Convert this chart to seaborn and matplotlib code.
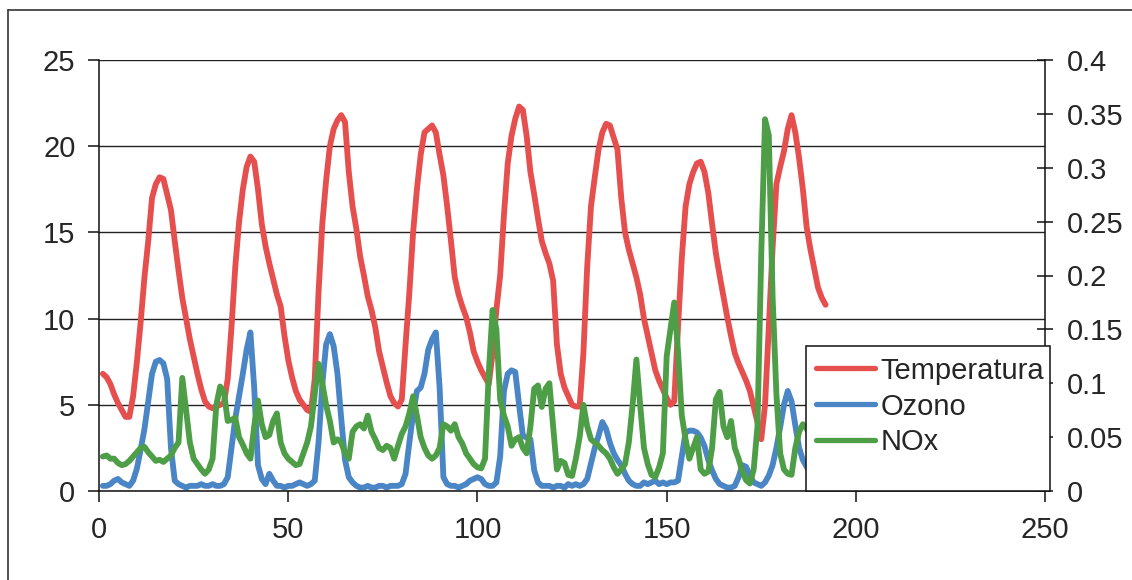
import numpy as np
import pandas as pd
import matplotlib
matplotlib.use("Agg")
import matplotlib.pyplot as plt
from matplotlib.lines import Line2D
from matplotlib.patches import Rectangle
from matplotlib.ticker import FuncFormatter
import seaborn as sns

# Hourly readings, hour 1..192
hours = list(range(1, 193))

temperatura = [
    6.8, 6.6, 6.2, 5.6, 5.1, 4.7, 4.3, 4.3, 5.5, 7.5,
    9.8, 12.4, 14.5, 17.0, 17.8, 18.2, 18.1, 17.2, 16.3, 14.5,
    12.8, 11.2, 10.0, 8.8, 7.8, 6.8, 5.9, 5.2, 4.9, 4.8,
    4.9, 5.0, 5.1, 6.5, 9.5, 13.0, 15.6, 17.5, 18.8, 19.4,
    19.1, 17.5, 15.5, 14.2, 13.2, 12.3, 11.4, 10.7, 9.0, 7.6,
    6.6, 5.8, 5.3, 5.0, 4.7, 4.6, 6.5, 11.5, 15.5, 18.0,
    20.0, 21.0, 21.5, 21.8, 21.4, 18.5, 16.5, 15.2, 13.6, 12.5,
    11.3, 10.5, 9.5, 8.1, 7.2, 6.3, 5.5, 5.1, 4.9, 5.3,
    8.5, 11.5, 15.0, 17.5, 19.5, 20.8, 21.0, 21.2, 20.8, 19.5,
    18.3, 16.5, 14.5, 12.4, 11.4, 10.7, 10.1, 9.2, 8.1, 7.5,
    7.0, 6.6, 6.2, 8.0, 10.5, 12.5, 16.0, 19.0, 20.6, 21.6,
    22.3, 22.1, 20.6, 18.5, 17.2, 15.8, 14.5, 13.8, 13.2, 12.2,
    8.5, 6.8, 6.0, 5.5, 5.0, 4.9, 4.9, 8.0, 13.0, 16.5,
    18.2, 19.8, 20.8, 21.3, 21.2, 20.5, 19.8, 17.0, 15.0, 14.0,
    13.2, 12.4, 11.4, 10.0, 9.0, 8.0, 7.0, 6.4, 5.9, 5.4,
    5.0, 5.2, 9.5, 13.5, 16.5, 17.8, 18.5, 19.0, 19.1, 18.5,
    17.3, 15.5, 13.8, 12.5, 11.3, 10.1, 9.0, 8.0, 7.4, 6.9,
    6.4, 5.8, 4.9, 4.0, 3.0, 5.0, 9.5, 14.1, 17.8, 18.8,
    19.7, 21.0, 21.8, 20.8, 19.3, 17.5, 15.3, 14.0, 12.9, 11.8,
    11.2, 10.8,
]

ozono = [
    0.3, 0.3, 0.4, 0.6, 0.7, 0.5, 0.4, 0.3, 0.6, 1.3,
    2.4, 3.6, 5.2, 6.8, 7.5, 7.6, 7.4, 6.5, 2.5, 0.6,
    0.4, 0.3, 0.2, 0.3, 0.3, 0.3, 0.4, 0.3, 0.3, 0.4,
    0.3, 0.3, 0.4, 0.8, 2.5, 4.2, 5.5, 6.8, 8.2, 9.2,
    6.0, 1.5, 0.7, 0.4, 1.0, 0.6, 0.3, 0.3, 0.2, 0.3,
    0.3, 0.4, 0.5, 0.4, 0.3, 0.4, 0.6, 2.8, 6.2, 8.5,
    9.1, 8.4, 6.8, 4.2, 1.8, 0.8, 0.5, 0.3, 0.2, 0.2,
    0.3, 0.2, 0.2, 0.3, 0.3, 0.2, 0.3, 0.3, 0.3, 0.4,
    1.0, 2.8, 4.5, 5.8, 6.0, 6.8, 8.2, 8.8, 9.2, 6.0,
    0.8, 0.4, 0.3, 0.3, 0.2, 0.3, 0.4, 0.6, 0.7, 0.8,
    0.7, 0.4, 0.3, 0.3, 0.5, 2.0, 5.8, 6.8, 7.0, 6.9,
    5.0, 3.2, 3.1, 3.0, 1.2, 0.5, 0.3, 0.3, 0.3, 0.2,
    0.3, 0.3, 0.2, 0.4, 0.3, 0.4, 0.3, 0.4, 0.7, 1.6,
    2.5, 3.2, 4.0, 3.6, 2.8, 2.2, 1.8, 1.5, 1.0, 0.6,
    0.4, 0.3, 0.3, 0.5, 0.4, 0.5, 0.6, 0.4, 0.5, 0.4,
    0.5, 0.5, 0.6, 2.0, 3.4, 3.5, 3.5, 3.4, 3.1, 2.6,
    1.8, 1.2, 0.7, 0.4, 0.3, 0.2, 0.2, 0.3, 0.8, 1.5,
    1.4, 0.9, 0.5, 0.4, 0.3, 0.5, 0.9, 1.5, 2.5, 3.7,
    5.0, 5.8, 5.2, 3.8, 2.5, 1.8, 1.4, 1.2, 1.1, 1.0,
    1.0, 0.9,
]

nox = [
    0.032, 0.033, 0.030, 0.030, 0.026, 0.024, 0.025, 0.028, 0.032, 0.036,
    0.040, 0.041, 0.036, 0.032, 0.028, 0.029, 0.027, 0.030, 0.033, 0.040,
    0.045, 0.105, 0.075, 0.045, 0.030, 0.025, 0.020, 0.016, 0.020, 0.030,
    0.080, 0.097, 0.092, 0.065, 0.066, 0.068, 0.050, 0.043, 0.035, 0.030,
    0.060, 0.084, 0.062, 0.050, 0.052, 0.065, 0.072, 0.045, 0.035, 0.030,
    0.027, 0.024, 0.025, 0.035, 0.045, 0.060, 0.090, 0.118, 0.100, 0.080,
    0.065, 0.045, 0.048, 0.045, 0.035, 0.030, 0.055, 0.060, 0.062, 0.058,
    0.070, 0.055, 0.048, 0.040, 0.038, 0.042, 0.040, 0.030, 0.042, 0.053,
    0.060, 0.072, 0.088, 0.070, 0.050, 0.040, 0.033, 0.030, 0.033, 0.040,
    0.062, 0.060, 0.056, 0.062, 0.050, 0.044, 0.035, 0.030, 0.025, 0.022,
    0.021, 0.030, 0.110, 0.168, 0.150, 0.085, 0.070, 0.060, 0.042, 0.048,
    0.050, 0.040, 0.035, 0.060, 0.095, 0.098, 0.078, 0.095, 0.100, 0.060,
    0.020, 0.028, 0.026, 0.015, 0.014, 0.030, 0.050, 0.080, 0.060, 0.048,
    0.045, 0.042, 0.038, 0.035, 0.030, 0.022, 0.016, 0.020, 0.025, 0.045,
    0.080, 0.122, 0.080, 0.040, 0.025, 0.015, 0.013, 0.022, 0.035, 0.125,
    0.150, 0.175, 0.130, 0.070, 0.048, 0.030, 0.040, 0.050, 0.020, 0.016,
    0.018, 0.040, 0.085, 0.092, 0.060, 0.050, 0.065, 0.040, 0.030, 0.018,
    0.010, 0.007, 0.020, 0.060, 0.220, 0.345, 0.330, 0.180, 0.090, 0.035,
    0.020, 0.016, 0.015, 0.040, 0.055, 0.062, 0.058, 0.050, 0.045, 0.040,
    0.038, 0.035,
]

left_ticks = [0, 5, 10, 15, 20, 25]
right_ticks = [0, 0.05, 0.1, 0.15, 0.2, 0.25, 0.3, 0.35, 0.4]
x_ticks = [0, 50, 100, 150, 200, 250]

df = pd.DataFrame({"hora": hours, "Temperatura": temperatura,
                   "Ozono": ozono, "NOx": nox})

sns.set_style("white")
plt.rcParams["font.family"] = ["Liberation Sans", "DejaVu Sans"]

RED = "#E5504F"
BLUE = "#4A85C6"
GREEN = "#4D9E47"
LW = 4.2
FS = 21

fig = plt.figure(figsize=(11.32, 5.8), dpi=100)
fig.patch.set_facecolor("white")
ax = fig.add_axes([0.0875, 0.1534, 0.8357, 0.7432])
ax2 = ax.twinx()

sns.lineplot(data=df, x="hora", y="Temperatura", ax=ax, color=RED,
             linewidth=LW, legend=False)
sns.lineplot(data=df, x="hora", y="Ozono", ax=ax, color=BLUE,
             linewidth=LW, legend=False)
sns.lineplot(data=df, x="hora", y="NOx", ax=ax2, color=GREEN,
             linewidth=LW, legend=False)

for a in (ax, ax2):
    a.set_xlabel("")
    a.set_ylabel("")
    a.set_facecolor("none")

ax.set_xlim(0, 250)
ax.set_ylim(0, 25)
ax2.set_ylim(0, 0.4)
ax.set_xticks(x_ticks)
ax.set_yticks(left_ticks)
ax2.set_yticks(right_ticks)
ax2.yaxis.set_major_formatter(FuncFormatter(lambda v, p: f"{v:g}"))

# horizontal gridlines only
ax.yaxis.grid(True, color="#222222", linewidth=1.0)
ax.xaxis.grid(False)
ax.set_axisbelow(True)

ax.spines["top"].set_visible(False)
ax2.spines["top"].set_visible(False)
ax.spines["right"].set_visible(False)
ax2.spines["left"].set_visible(False)
ax2.spines["bottom"].set_visible(False)
for sp in (ax.spines["left"], ax.spines["bottom"], ax2.spines["right"]):
    sp.set_color("#111111")
    sp.set_linewidth(1.1)

ax.tick_params(axis="y", direction="out", length=8, width=1.1,
               color="#111111", labelsize=FS, pad=9, left=True)
ax.tick_params(axis="x", direction="out", length=8, width=1.1,
               color="#111111", labelsize=FS, pad=10, bottom=True)
ax2.tick_params(axis="y", direction="inout", length=12, width=1.1,
                color="#111111", labelsize=FS, pad=10, right=True)

# legend box: white panel sitting on the x axis, slightly past the right axis
box = (0.747, 0.0, 0.258, 0.336)
ax2.add_patch(Rectangle((box[0], box[1]), box[2], box[3],
                        transform=ax2.transAxes, facecolor="white",
                        edgecolor="#111111", linewidth=1.1,
                        clip_on=False, zorder=9))

handles = [Line2D([], [], color=RED, linewidth=3.8),
           Line2D([], [], color=BLUE, linewidth=3.8),
           Line2D([], [], color=GREEN, linewidth=3.8)]
leg = ax2.legend(handles, ["Temperatura", "Ozono", "NOx"],
                 loc="upper left", bbox_to_anchor=(box[0], box[3]),
                 fontsize=21, frameon=False, borderpad=0.36,
                 handlelength=2.0, handletextpad=0.2, labelspacing=0.27,
                 borderaxespad=0.0)
leg.set_zorder(10)

# chart-area border
fig.add_artist(Line2D([0.007, 1.0], [0.983, 0.983], color="#333333",
                      linewidth=1.2, transform=fig.transFigure))
fig.add_artist(Line2D([0.007, 0.007], [0.0, 0.983], color="#333333",
                      linewidth=1.2, transform=fig.transFigure))

fig.savefig("out.png", dpi=100, facecolor="white")
